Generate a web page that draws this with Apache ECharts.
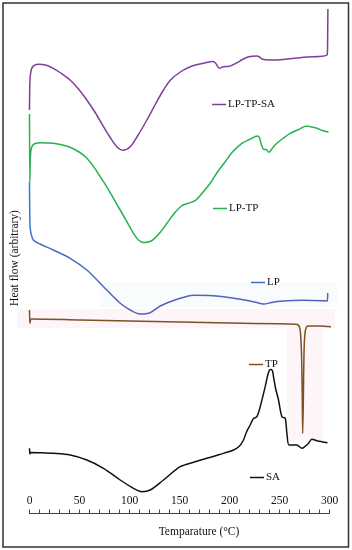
<!DOCTYPE html>
<html>
<head>
<meta charset="utf-8">
<script src="https://cdn.jsdelivr.net/npm/echarts@6/dist/echarts.min.js"></script>
<style>
html,body{margin:0;padding:0;background:#fff;}
#chart{width:352px;height:550px;}
</style>
</head>
<body>
<div id="chart"></div>
<script>
// Temperature tick labels (°C)
var xTicks = [0, 50, 100, 150, 200, 250, 300];

// Series names
var seriesNames = ['LP-TP-SA', 'LP-TP', 'LP', 'TP', 'SA'];

// Heat flow (arbitrary, stacked offsets) vs temperature
var lpTpSa = [
  [0,403],[0.3,428],[1,439],[3,446],[8.8,448.7],[16,448],[23.8,444.7],[32,439.5],[40.6,433],
  [49,424],[57.3,413],[66,400],[74,386.3],[81,375],[87.4,366.3],[93.5,362.7],[100.7,366.3],
  [108,377],[117.4,393],[126,409],[134,423],[141,433],[150.8,441],[160.8,446.3],[174,449.7],
  [183.5,451.5],[186,450],[190,444.7],[194,446.3],[199,446.5],[207.6,450.3],[213,453.5],
  [219.2,456.3],[227.6,457],[230,456],[233,453.7],[241,453],[257.7,454],[274.4,455.7],
  [297.8,458.7],[298.2,483],[298.4,504]
];
var lpTp = [
  [0,399],[0.3,331],[0.8,353],[1.5,363],[3,367.5],[5.7,369.5],[10.7,370.3],[24,369.7],
  [40.7,365.7],[57.4,354.7],[74,331.3],[90.7,303],[104,279.7],[109,273],[114,270.5],[119,271],
  [124,273.7],[131,281],[137.4,289.7],[145,300],[152,307],[158,309.5],[165.7,312.3],[172,319],
  [180.7,329.7],[188,341],[195.7,351.3],[203,361],[212.4,369.7],[220,373.5],[228,377],[230,375],
  [232,368],[234,363.7],[236,363.5],[237.4,363],[239.4,360.7],[243,365],[247.4,369.7],[254,375],
  [260.7,379.7],[268,383],[277.4,387],[282,386],[287.4,384.7],[293,382.5],[299,381]
];
var lp = [
  [0,331],[0.5,288],[1.5,279.7],[3.8,273],[10.5,269],[23.8,263],[40.6,254.7],[57.3,243],
  [74,226.3],[90.7,209.7],[100.7,203],[110.7,199],[120.7,200.3],[130.7,207],[140.7,211.3],
  [150.8,214.7],[164,217.7],[180,217.5],[194.2,216.3],[211,213.7],[225,211],[234.3,209],
  [242,210.5],[250.8,211.7],[274.4,212.7],[297.8,212],[298.2,220]
];
var tp = [
  [0,203],[0.4,189.7],[1.2,193.5],[2,194],[50,193],[100,192],[150,191],[200,190],[250,189.2],
  [266,188.8],[268,188.5],[270,186],[271,180],[272,160],[272.7,120],[273.2,79.7],[273.8,110],
  [274.5,160],[275.5,180],[277,186],[279,187],[290,187],[302.4,186.3]
];
var sa = [
  [0,64.7],[0.3,59],[1,60.5],[10.7,60.3],[24,59.7],[40.7,58],[57.4,53],[74,44.7],[90.7,33],
  [104,24.7],[112.4,21.3],[120.7,23],[134,33],[150.7,46.3],[165,51],[177.4,54.7],[190,58.5],
  [204,63],[210,67],[214,73],[217,81],[220.7,88],[224,94.5],[227.4,96.3],[230.7,106.3],
  [235.7,126.3],[238,137],[240,143],[241.5,143.5],[243,142],[244,136.3],[246,125],[249,113],
  [252.4,96.3],[255.7,94.7],[257.4,79.7],[259.7,68],[267.4,68],[272.4,64.7],[276,67],
  [279,69.7],[282.4,73.7],[287.4,72.3],[298,70.3]
];

var colors = ['#7f3f98', '#22b450', '#3f6fc8', '#7d5124', '#111111'];
var datasets = [lpTpSa, lpTp, lp, tp, sa];

var FONT = 'Liberation Serif';

var series = seriesNames.map(function (name, i) {
  var c = colors[i];
  if (name === 'LP') {
    c = new echarts.graphic.LinearGradient(0, 0, 0, 1, [
      {offset: 0, color: '#2a80c8'}, {offset: 1, color: '#5a5cc0'}
    ]);
  }
  return {
    name: name,
    type: 'line',
    data: datasets[i],
    showSymbol: false,
    symbol: 'none',
    smooth: 0.3,
    clip: false,
    lineStyle: {color: c, width: 1.5},
    itemStyle: {color: colors[i]},
    z: 3
  };
});

// Legend positions (one legend per label, placed next to its curve)
var legendPos = [
  {left: 212, top: 99},
  {left: 213, top: 203},
  {left: 251, top: 277},
  {left: 249, top: 359},
  {left: 250, top: 472}
];
var legends = seriesNames.map(function (name, i) {
  return {
    data: [name],
    left: legendPos[i].left,
    top: legendPos[i].top,
    padding: 0,
    icon: 'rect',
    itemWidth: 14,
    itemHeight: 1.5,
    selectedMode: false,
    textStyle: {fontFamily: FONT, fontSize: 11, color: '#111', padding: [0, 0, 0, -3]}
  };
});

var chart = echarts.init(document.getElementById('chart'), null, {renderer: 'canvas'});
chart.setOption({
  animation: false,
  backgroundColor: '#fff',
  grid: {left: 29.5, right: 22.5, top: 3, bottom: 37, containLabel: false},
  legend: legends,
  xAxis: {
    type: 'value',
    min: xTicks[0],
    max: xTicks[xTicks.length - 1],
    interval: 50,
    name: 'Temparature (°C)',
    nameLocation: 'middle',
    nameGap: 13,
    nameTextStyle: {fontFamily: FONT, fontSize: 11.5, color: '#111', padding: [0, 0, 0, 39]},
    axisLine: {show: true, lineStyle: {color: '#444', width: 1}},
    axisTick: {show: true, inside: true, length: 3.5, lineStyle: {color: '#444'}},
    minorTick: {show: true, splitNumber: 5, length: 3.5, lineStyle: {color: '#444'}},
    axisLabel: {inside: true, margin: 6, fontFamily: FONT, fontSize: 11.5, color: '#111'},
    splitLine: {show: false},
    minorSplitLine: {show: false}
  },
  yAxis: {
    type: 'value',
    min: 0,
    max: 510,
    name: 'Heat flow (arbitrary)',
    nameLocation: 'middle',
    nameRotate: 90,
    nameGap: 9,
    nameTextStyle: {fontFamily: FONT, fontSize: 11.5, color: '#111'},
    axisLine: {show: false},
    axisTick: {show: false},
    axisLabel: {show: false},
    splitLine: {show: false}
  },
  graphic: [
    {type: 'rect', z: -10, silent: true, shape: {x: 17, y: 309, width: 318, height: 19}, style: {fill: '#fdf5f8'}},
    {type: 'rect', z: -10, silent: true, shape: {x: 287, y: 328, width: 36, height: 112}, style: {fill: '#fdf5f8'}},
    {type: 'rect', z: -10, silent: true, shape: {x: 100, y: 282, width: 237, height: 25}, style: {fill: '#f8fcfd'}},
    {type: 'rect', z: 10, silent: true, shape: {x: 3, y: 3, width: 345.5, height: 544}, style: {fill: 'none', stroke: '#333', lineWidth: 1.5}}
  ],
  series: series
});
</script>
</body>
</html>
